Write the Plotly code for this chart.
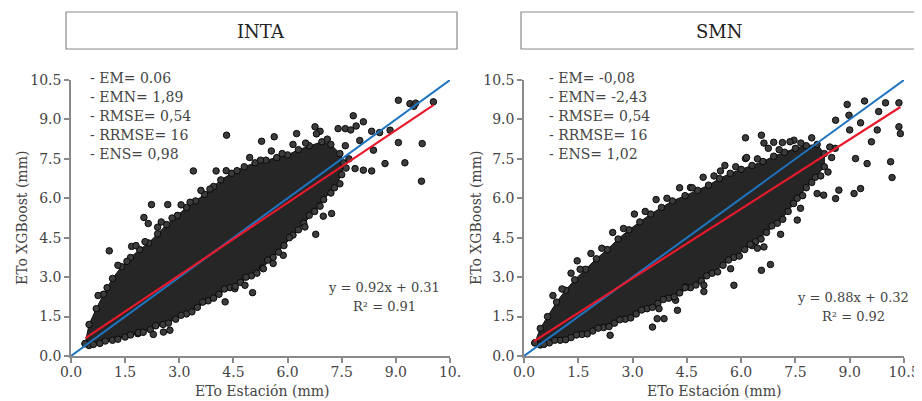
import plotly.graph_objects as go

# panel names and stats shown in the boxes / text
panels = ["INTA", "SMN"]
stats_inta = ["- EM= 0.06", "- EMN= 1,89", "- RMSE= 0,54", "- RRMSE= 16", "- ENS= 0,98"]
stats_smn = ["- EM= -0,08", "- EMN= -2,43", "- RMSE= 0,54", "- RRMSE= 16", "- ENS= 1,02"]
eq_inta = ["y = 0.92x + 0.31", "R² = 0.91"]
eq_smn = ["y = 0.88x + 0.32", "R² = 0.92"]

# trend lines (slope, intercept, x range of the data)
fit_inta = (0.92, 0.31, 0.4, 10.05)
fit_smn = (0.88, 0.32, 0.27, 10.4)

tick_vals = [0, 1.5, 3.0, 4.5, 6.0, 7.5, 9.0, 10.5]
tick_txt = ["0.0", "1.5", "3.0", "4.5", "6.0", "7.5", "9.0", "10.5"]
tick_txt_left = ["0.0", "1.5", "3.0", "4.5", "6.0", "7.5", "9.0", "10."]

# dense core of the INTA cloud (outline)
inta_core_x = [0.39, 0.5, 0.7, 0.9, 1.15, 1.4, 1.65, 1.9, 2.15, 2.4, 2.65, 2.95, 3.2, 3.45, 3.7,
               3.95, 4.15, 4.45, 4.8, 5.1, 5.4, 5.7, 6.0, 6.3, 6.6, 6.95, 7.2, 7.45, 7.55,
               7.5, 7.3, 7.0, 6.75, 6.45, 6.15, 5.9, 5.6, 5.3, 5.0, 4.7, 4.4, 4.1, 3.8, 3.5,
               3.2, 2.9, 2.55, 2.2, 1.85, 1.5, 1.15, 0.8, 0.5]
inta_core_y = [0.47, 1.2, 1.8, 2.35, 2.95, 3.4, 3.75, 4.05, 4.3, 4.65, 5.0, 5.35, 5.65, 5.9, 6.15,
               6.45, 6.7, 6.95, 7.2, 7.35, 7.45, 7.55, 7.65, 7.85, 8.0, 8.15, 8.05, 7.7, 7.35,
               6.9, 6.4, 5.95, 5.5, 5.05, 4.6, 4.2, 3.75, 3.35, 3.05, 2.8, 2.6, 2.35, 2.1, 1.85,
               1.6, 1.4, 1.2, 1.0, 0.85, 0.72, 0.6, 0.48, 0.4]

# scattered INTA points outside the core
inta_x = [4.31, 5.28, 5.63, 6.25, 6.76, 7.82, 8.1, 9.07, 9.39, 10.04, 9.07, 9.73, 8.7, 9.25, 9.71,
          8.38, 8.84, 3.39, 4.02, 2.23, 2.68, 1.06, 1.68, 2.02, 2.14, 2.4, 4.27, 5.03, 5.33, 5.6,
          5.88, 6.48, 6.78, 6.99, 7.22, 4.82, 4.54, 2.28, 2.56, 2.74, 1.87, 8.1, 8.33, 7.87, 7.4,
          7.6, 7.75, 8.0, 8.33, 7.9, 8.55, 9.5, 9.55, 6.9,
          0.75, 1.0, 1.3, 1.55, 1.8, 2.05, 2.5, 2.8, 3.05, 3.3, 3.6, 3.85, 4.3, 4.6, 4.95, 5.25,
          5.55, 5.85, 6.15, 6.5, 6.8, 7.1, 7.6, 7.7,
          7.62, 7.45, 7.2, 6.9, 6.6, 6.3, 6.05, 5.75, 5.45, 5.15, 4.85, 4.55, 4.25, 3.95, 3.65,
          3.35, 3.05, 2.7, 2.35, 2.0, 1.65, 1.3, 0.95, 0.62]
inta_y = [8.4, 8.17, 8.34, 8.46, 8.72, 9.14, 8.91, 9.73, 9.6, 9.67, 8.12, 8.08, 7.32, 7.35, 6.65,
          7.83, 8.59, 7.04, 7.04, 5.76, 5.76, 4.0, 4.17, 5.27, 5.04, 4.9, 2.06, 2.41, 3.32, 3.52,
          3.83, 4.91, 4.63, 5.32, 5.42, 2.69, 2.56, 0.82, 0.91, 0.98, 0.89, 7.07, 7.04, 7.13, 8.65,
          8.65, 8.6, 8.2, 8.55, 8.75, 8.5, 9.5, 9.62, 8.55,
          2.3, 2.6, 3.45, 3.6, 4.2, 4.35, 5.1, 5.25, 5.75, 5.85, 6.3, 6.35, 7.05, 7.05, 7.55, 7.45,
          7.8, 7.7, 8.05, 8.1, 8.45, 8.25, 8.0, 7.5,
          7.15, 6.55, 6.2, 5.7, 5.35, 4.8, 4.5, 3.95, 3.65, 3.15, 3.0, 2.65, 2.55, 2.2, 2.05,
          1.68, 1.55, 1.25, 1.15, 0.9, 0.8, 0.64, 0.57, 0.44]

# dense core of the SMN cloud (outline)
smn_core_x = [0.3, 0.45, 0.65, 0.9, 1.15, 1.4, 1.7, 2.0, 2.3, 2.6, 2.9, 3.2, 3.5, 3.8, 4.1, 4.45,
              4.8, 5.1, 5.4, 5.7, 6.0, 6.3, 6.6, 6.9, 7.2, 7.5, 7.8, 8.1, 8.3,
              8.3, 8.05, 7.8, 7.55, 7.3, 7.0, 6.7, 6.4, 6.1, 5.8, 5.5, 5.2, 4.9, 4.6, 4.3, 4.0,
              3.7, 3.4, 3.1, 2.8, 2.5, 2.2, 1.9, 1.6, 1.3, 1.0, 0.7, 0.45]
smn_core_y = [0.5, 1.05, 1.5, 2.05, 2.5, 2.9, 3.3, 3.7, 4.05, 4.45, 4.8, 5.1, 5.4, 5.65, 5.9, 6.1,
              6.3, 6.5, 6.75, 6.95, 7.1, 7.25, 7.4, 7.6, 7.75, 7.9, 8.0, 8.05, 7.7,
              7.2, 6.8, 6.4, 6.0, 5.5, 5.05, 4.7, 4.35, 4.05, 3.75, 3.45, 3.15, 2.85, 2.6, 2.4, 2.2,
              2.0, 1.8, 1.6, 1.4, 1.25, 1.08, 0.95, 0.82, 0.7, 0.6, 0.5, 0.42]

# scattered SMN points outside the core
smn_x = [6.12, 6.56, 6.63, 6.9, 7.14, 7.46, 6.12, 5.43, 4.6, 8.93, 9.41, 9.99, 10.36, 8.98, 8.61,
         9.3, 10.36, 10.4, 10.13, 10.17, 9.76, 9.6, 9.48, 9.16, 9.3, 9.12, 8.7, 8.61, 8.1, 8.28,
         7.55, 7.09, 6.81, 6.56, 5.8, 5.71, 4.97, 4.97, 4.47, 4.19, 4.24, 3.68, 3.87, 3.55, 3.73,
         2.38, 1.47, 6.3, 6.45, 6.63, 7.64, 8.6, 9.8, 9.0, 8.4,
         0.8, 1.05, 1.3, 1.55, 1.85, 2.15, 2.45, 2.75, 3.05, 3.35, 3.65, 3.95, 4.3, 4.65, 4.95,
         5.25, 5.55, 5.85, 6.15, 6.45, 6.75, 7.05, 7.35, 7.65, 7.95, 8.45, 8.5,
         8.2, 7.95, 7.7, 7.45, 7.15, 6.85, 6.55, 6.25, 5.95, 5.65, 5.35, 5.05, 4.75, 4.45, 4.15,
         3.85, 3.55, 3.25, 2.95, 2.65, 2.35, 2.05, 1.75, 1.45, 1.15, 0.85, 0.55]
smn_y = [8.3, 8.4, 8.1, 8.13, 8.12, 8.21, 7.51, 7.04, 6.41, 9.57, 9.7, 9.63, 9.63, 9.16, 8.97,
         8.87, 8.72, 8.46, 7.39, 6.79, 8.6, 8.15, 7.32, 7.51, 6.37, 6.18, 6.31, 5.99, 6.18, 6.12,
         5.17, 4.63, 3.48, 3.26, 2.69, 3.32, 2.69, 2.45, 2.63, 2.12, 1.74, 1.42, 1.42, 1.1, 1.8,
         0.79, 3.62, 4.2, 4.1, 4.15, 5.62, 7.9, 9.3, 8.6, 7.0,
         2.3, 2.55, 3.15, 3.3, 3.9, 4.1, 4.7, 4.85, 5.4, 5.5, 5.95, 6.0, 6.4, 6.4, 6.8,
         6.85, 7.25, 7.2, 7.55, 7.5, 7.9, 7.85, 8.15, 8.1, 8.3, 7.95, 7.55,
         6.85, 6.6, 6.1, 5.8, 5.2, 4.95, 4.45, 4.25, 3.8, 3.65, 3.2, 3.05, 2.7, 2.6, 2.25,
         2.15, 1.85, 1.75, 1.45, 1.38, 1.12, 1.06, 0.84, 0.8, 0.62, 0.6, 0.44]

FONT = "DejaVu Serif"
# the page body adds an 8px margin, so the figure starts 8px in from the window corner
OFF = 8
W, H = 922 - OFF, 401 - OFF

def px(v):
    return (v - OFF) / W

def py(v):
    return 1 - (v - OFF) / H

dot = dict(size=6.5, color="#3c3c3c", line=dict(color="#0a0a0a", width=1))

fig = go.Figure()

def add_panel(n, core_x, core_y, sx, sy, fit):
    xa = "x" if n == 1 else "x%d" % n
    ya = "y" if n == 1 else "y%d" % n
    fig.add_trace(go.Scatter(x=core_x + core_x[:1], y=core_y + core_y[:1], xaxis=xa, yaxis=ya,
                             mode="lines+markers", fill="toself", fillcolor="#262626",
                             line=dict(color="#111111", width=1), marker=dot,
                             showlegend=False, hoverinfo="skip"))
    fig.add_trace(go.Scatter(x=sx, y=sy, xaxis=xa, yaxis=ya, mode="markers", marker=dot,
                             showlegend=False))
    # 1:1 line
    fig.add_trace(go.Scatter(x=[0, 10.5], y=[0, 10.5], xaxis=xa, yaxis=ya, mode="lines",
                             line=dict(color="#1f74c0", width=2), showlegend=False))
    a, b, x0, x1 = fit
    fig.add_trace(go.Scatter(x=[x0, x1], y=[a * x0 + b, a * x1 + b], xaxis=xa, yaxis=ya,
                             mode="lines", line=dict(color="#e8192c", width=2.2),
                             showlegend=False))

add_panel(1, inta_core_x, inta_core_y, inta_x, inta_y, fit_inta)
add_panel(2, smn_core_x, smn_core_y, smn_x, smn_y, fit_smn)

ax_common = dict(range=[0, 10.5], tickvals=tick_vals, showgrid=False, zeroline=False,
                 showline=True, linecolor="#8a8a8a", linewidth=1.5, ticks="outside",
                 ticklen=5, tickcolor="#8a8a8a", tickwidth=1.5, automargin=False,
                 tickfont=dict(family=FONT, size=14, color="#444444"))

ydom = [py(356), py(80)]
fig.update_layout(
    width=W, height=H, margin=dict(l=0, r=0, t=0, b=0),
    paper_bgcolor="white", plot_bgcolor="white",
    xaxis=dict(ax_common, domain=[px(71), px(450)], ticktext=tick_txt_left, anchor="y",
               ticklabelstandoff=-3),
    yaxis=dict(ax_common, domain=ydom, ticktext=tick_txt, anchor="x"),
    xaxis2=dict(ax_common, domain=[px(524), px(904)], ticktext=tick_txt, anchor="y2",
                ticklabelstandoff=-3),
    yaxis2=dict(ax_common, domain=ydom, ticktext=tick_txt, anchor="x2"),
)

# title boxes
boxes = [(66, 457), (521, 918)]
for name, (bx0, bx1) in zip(panels, boxes):
    fig.add_shape(type="rect", xref="paper", yref="paper", x0=px(bx0), x1=px(bx1),
                  y0=py(49), y1=py(12), line=dict(color="#8a8a8a", width=1.2))
    fig.add_annotation(xref="paper", yref="paper", x=px((bx0 + bx1) / 2), y=py(31),
                       text=name, showarrow=False, xanchor="center", yanchor="middle",
                       font=dict(family=FONT, size=18, color="#222222"))

stat_font = dict(family=FONT, size=14, color="#444444")
for sx, lines in [(88, stats_inta), (547, stats_smn)]:
    for i, s in enumerate(lines):
        fig.add_annotation(xref="paper", yref="paper", x=px(sx), y=py(78 + 19 * i),
                           text=s, showarrow=False, xanchor="left", yanchor="middle", font=stat_font)

eq_font = dict(family=FONT, size=13, color="#444444")
for (cx, cy), lines in [((384, 287), eq_inta), ((853, 297), eq_smn)]:
    for i, s in enumerate(lines):
        fig.add_annotation(xref="paper", yref="paper", x=px(cx), y=py(cy + 19 * i),
                           text=s, showarrow=False, xanchor="center", yanchor="middle", font=eq_font)

# axis titles
txt = dict(family=FONT, size=14, color="#444444")
for cx in [262, 714]:
    fig.add_annotation(xref="paper", yref="paper", x=px(cx), y=py(391), text="ETo Estación (mm)",
                       showarrow=False, xanchor="center", yanchor="middle", font=txt)
for cx in [22, 476]:
    fig.add_annotation(xref="paper", yref="paper", x=px(cx), y=py(218), text="ETo XGBoost (mm)",
                       showarrow=False, xanchor="center", yanchor="middle", textangle=-90, font=txt)

fig.write_html("out.html")
